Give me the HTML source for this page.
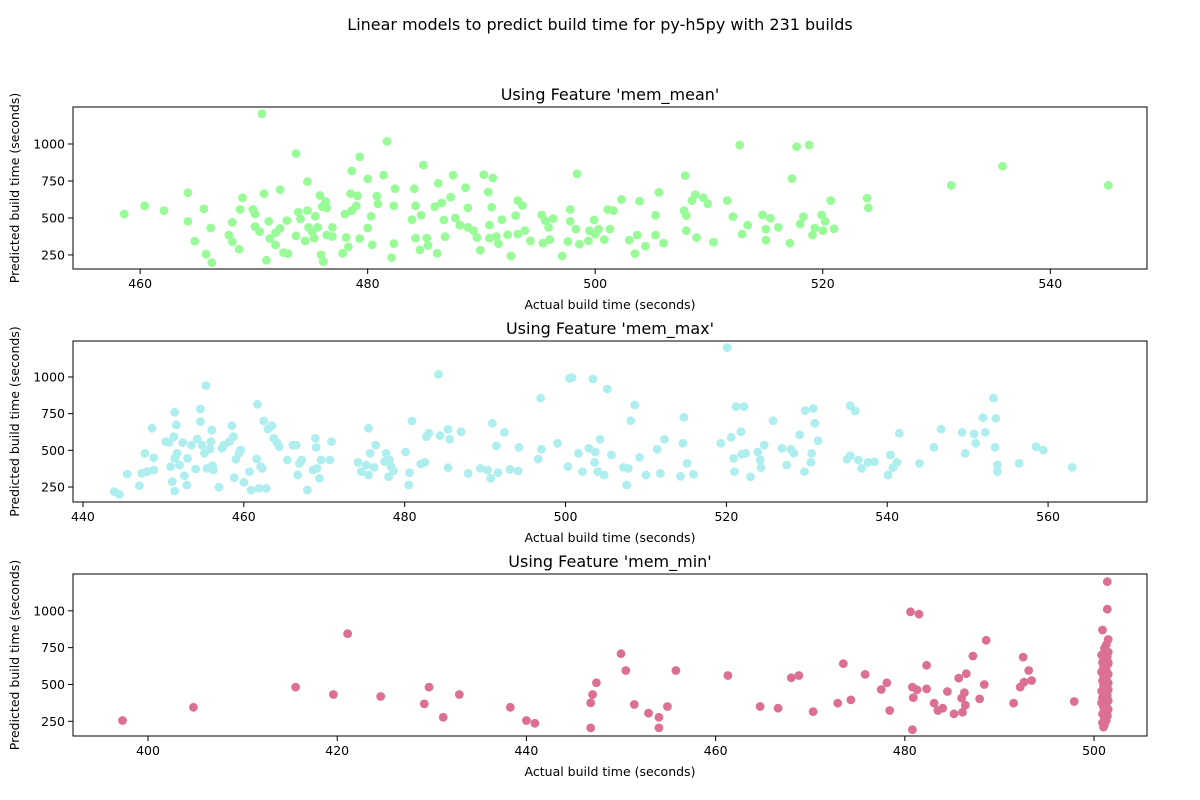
<!DOCTYPE html>
<html><head><meta charset="utf-8"><style>
html,body{margin:0;padding:0;background:#fff}
svg{display:block;font-family:"DejaVu Sans","Liberation Sans",sans-serif}
</style></head><body>
<svg id="chart" width="1200" height="800" viewBox="0 0 1200 800">
<rect width="1200" height="800" fill="#fff"/>
<text x="600" y="30" text-anchor="middle" font-size="16">Linear models to predict build time for py-h5py with 231 builds</text>
</svg>
<script>
const yTicks = [250, 500, 750, 1000];
const titles = ["Using Feature 'mem_mean'", "Using Feature 'mem_max'", "Using Feature 'mem_min'"];
const xTicks1 = [460, 480, 500, 520, 540];
const xTicks2 = [440, 460, 480, 500, 520, 540, 560];
const xTicks3 = [400, 420, 440, 460, 480, 500];
const memMeanPoints = [[458.6,527],[460.4,582],[462.1,550],[464.2,670],[464.2,477],[464.8,343],[465.6,561],[465.8,255],[466.2,432],[466.3,198],[467.8,384],[468.1,470],[468.1,339],[468.7,289],[468.8,557],[469.0,636],[469.9,557],[470.1,527],[470.1,441],[470.5,407],[470.7,1205],[470.9,664],[471.1,214],[471.3,477],[471.4,361],[471.9,400],[471.9,318],[472.3,691],[472.3,430],[472.6,266],[472.9,482],[473.0,259],[473.7,379],[473.7,936],[473.9,539],[474.1,493],[474.5,345],[474.7,745],[474.7,550],[474.8,436],[475.1,407],[475.3,364],[475.4,511],[475.6,436],[475.8,652],[475.9,250],[476.0,577],[476.1,205],[476.3,611],[476.4,568],[476.4,384],[476.9,436],[476.9,375],[477.8,261],[478.0,527],[478.1,368],[478.3,305],[478.5,664],[478.6,818],[478.6,550],[479.0,582],[479.1,650],[479.3,913],[479.3,361],[480.0,764],[480.0,432],[480.3,511],[480.4,318],[480.8,647],[480.9,595],[481.4,789],[481.7,1018],[482.1,232],[482.3,582],[482.3,327],[482.4,698],[483.9,489],[484.1,698],[484.2,582],[484.2,364],[484.6,284],[484.7,518],[484.9,857],[485.2,364],[485.3,314],[485.9,577],[486.1,261],[486.2,734],[486.5,602],[486.7,486],[486.8,373],[487.3,641],[487.5,789],[487.7,500],[488.1,452],[488.6,705],[488.8,568],[488.8,436],[489.3,414],[489.6,368],[489.9,282],[490.2,793],[490.6,675],[490.7,452],[490.7,364],[490.9,572],[491.0,770],[491.3,373],[491.5,327],[491.8,489],[492.3,386],[492.6,243],[493.0,516],[493.2,618],[493.2,391],[493.6,584],[493.8,414],[494.3,345],[495.3,521],[495.4,330],[495.6,482],[495.9,436],[496.0,354],[496.3,495],[497.1,243],[497.6,341],[497.8,557],[497.8,477],[498.3,425],[498.4,798],[498.6,323],[499.4,345],[499.5,414],[499.9,486],[500.0,391],[500.3,425],[500.8,354],[501.1,557],[501.3,425],[501.6,550],[502.3,625],[503.0,350],[503.5,259],[503.7,384],[503.9,613],[504.4,309],[505.3,518],[505.3,384],[505.6,673],[506.0,330],[507.8,550],[507.9,786],[508.0,516],[508.0,414],[508.5,618],[508.8,657],[508.9,368],[509.5,636],[509.9,595],[510.4,336],[511.6,618],[512.1,509],[512.7,993],[512.9,391],[513.4,452],[514.7,521],[515.0,350],[515.0,425],[515.4,498],[516.1,436],[517.1,330],[517.3,766],[517.7,982],[518.0,459],[518.3,509],[518.8,993],[519.1,384],[519.3,432],[519.9,521],[520.0,414],[520.2,477],[520.7,618],[521.0,427],[523.9,634],[524.0,568],[531.3,720],[535.8,850],[545.1,720]];
const memMaxPoints = [[443.9,218],[444.5,200],[445.5,339],[447.0,259],[447.3,343],[447.7,480],[448.0,355],[448.6,650],[448.8,450],[448.8,366],[450.3,559],[450.7,554],[450.9,389],[451.1,286],[451.3,593],[451.4,759],[451.4,445],[451.4,223],[451.6,673],[451.7,480],[452.0,400],[452.4,552],[452.6,327],[452.9,264],[453.0,445],[453.5,536],[454.0,373],[454.2,577],[454.6,695],[454.6,782],[454.8,536],[455.1,480],[455.3,941],[455.4,377],[455.8,509],[455.9,559],[456.0,638],[456.1,395],[456.2,366],[456.9,248],[457.3,514],[457.5,536],[458.2,559],[458.5,668],[458.7,593],[458.8,314],[459.0,439],[459.4,480],[459.6,502],[460.0,282],[460.7,355],[460.9,230],[461.6,441],[461.7,814],[461.9,241],[462.1,389],[462.3,377],[462.5,700],[462.8,241],[463.0,645],[463.5,668],[463.7,582],[464.1,554],[464.4,525],[465.4,434],[466.1,536],[466.5,536],[466.7,332],[466.9,411],[467.2,434],[467.9,230],[468.6,366],[468.9,582],[469.0,520],[469.1,377],[469.4,309],[469.6,434],[470.7,434],[470.9,559],[474.2,418],[474.6,355],[475.2,400],[475.5,650],[475.5,332],[475.7,480],[476.2,384],[476.4,536],[477.5,423],[477.7,480],[478.0,320],[478.1,434],[478.3,389],[478.6,359],[480.1,489],[480.5,264],[480.6,348],[480.9,700],[482.0,407],[482.5,418],[482.7,593],[483.0,616],[484.2,1018],[484.4,600],[485.4,643],[485.4,382],[485.6,575],[487.0,627],[487.9,343],[489.4,377],[490.3,366],[490.7,309],[490.9,684],[491.4,530],[491.6,348],[492.4,622],[493.1,370],[494.1,359],[494.2,520],[496.6,441],[496.9,855],[497.0,507],[499.0,548],[500.3,389],[500.5,991],[500.8,995],[501.6,480],[502.1,355],[502.9,514],[503.4,986],[503.6,418],[503.7,489],[504.0,355],[504.3,575],[504.8,332],[505.2,918],[505.7,468],[507.2,384],[507.6,264],[507.8,377],[508.1,702],[508.6,809],[509.2,452],[510.0,332],[511.4,507],[511.8,343],[512.3,575],[514.3,323],[514.6,548],[514.7,725],[515.1,411],[515.9,336],[519.3,548],[520.1,1200],[520.6,589],[520.9,445],[521.0,355],[521.2,798],[521.9,473],[521.8,627],[522.2,798],[522.4,480],[523.0,320],[523.9,489],[524.2,434],[524.3,382],[524.7,536],[525.8,702],[526.9,514],[527.5,400],[528.0,507],[528.4,480],[529.1,605],[529.7,355],[529.8,770],[530.5,418],[530.6,480],[530.8,786],[531.0,684],[531.4,566],[535.0,439],[535.4,805],[535.4,464],[536.0,768],[536.4,434],[536.8,377],[537.6,418],[538.4,423],[540.1,332],[540.4,468],[540.7,382],[541.2,418],[541.5,616],[544.0,411],[545.8,520],[546.7,645],[549.3,622],[549.7,480],[550.8,611],[551.0,548],[551.9,723],[552.2,622],[553.2,855],[553.5,718],[553.4,520],[553.7,400],[553.7,355],[556.4,411],[558.5,525],[559.4,502],[563.0,384]];
const memMinPoints = [[397.3,255],[404.8,345],[415.6,482],[419.6,432],[421.1,845],[424.6,418],[429.2,368],[429.7,482],[431.2,277],[432.9,432],[438.3,345],[440.0,255],[440.9,236],[446.8,205],[446.8,375],[447.0,432],[447.4,511],[450.0,709],[450.5,595],[451.4,364],[452.9,305],[454.0,277],[454.0,205],[454.9,350],[455.8,595],[461.3,561],[464.7,350],[466.6,339],[468.0,545],[468.8,561],[470.3,316],[472.9,373],[473.5,641],[474.3,395],[475.8,568],[477.5,466],[478.1,511],[478.4,323],[480.6,993],[481.5,977],[480.8,193],[480.8,482],[480.9,411],[481.3,464],[482.3,470],[482.3,630],[483.1,373],[483.5,323],[484.0,339],[484.5,452],[485.2,300],[485.7,543],[486.0,407],[486.1,311],[486.3,445],[486.5,573],[486.4,359],[487.2,693],[487.9,402],[488.4,500],[488.6,800],[491.5,373],[492.2,482],[492.5,686],[492.6,516],[493.1,595],[493.4,527],[497.9,384],[501.4,1198],[501.4,1011],[500.9,870],[501.5,805],[501.3,770],[501.1,745],[501.5,720],[500.8,700],[501.4,690],[501.2,670],[500.9,650],[501.5,640],[501.0,620],[501.3,600],[500.8,585],[501.5,570],[501.1,555],[501.3,540],[500.9,525],[501.5,510],[501.0,495],[501.3,480],[501.5,465],[500.8,455],[501.2,440],[501.4,425],[500.9,410],[501.2,400],[501.5,390],[500.8,375],[501.3,360],[501.0,345],[501.5,330],[501.2,315],[500.9,300],[501.4,285],[501.1,270],[501.3,255],[500.9,240],[501.1,225],[501.0,210],[501.5,650],[501.0,560],[501.3,470],[501.1,380],[501.4,290]];

const NS = "http://www.w3.org/2000/svg";
const svg = document.getElementById('chart');
function mk(tag, attrs, parent){const e=document.createElementNS(NS,tag);for(const k in attrs)e.setAttribute(k,attrs[k]);(parent||svg).appendChild(e);return e;}

const panels = [
  {top:107,bottom:269,xmin:454.1,xmax:548.5,ymin:155,ymax:1250,ticks:xTicks1,pts:memMeanPoints,color:"#98fb98",key:"mem-mean"},
  {top:341,bottom:502,xmin:438.76,xmax:572.3,ymin:148,ymax:1245,ticks:xTicks2,pts:memMaxPoints,color:"#afeeee",key:"mem-max"},
  {top:574,bottom:736,xmin:392.07,xmax:505.6,ymin:150,ymax:1250,ticks:xTicks3,pts:memMinPoints,color:"#db7093",key:"mem-min"}
];
const L=73, R=1147;
panels.forEach((p,i)=>{
  const g = mk('g',{});
  
  
  const xs = v => L + (v - p.xmin) / (p.xmax - p.xmin) * (R - L);
  const ys = v => p.bottom - (v - p.ymin) / (p.ymax - p.ymin) * (p.bottom - p.top);
  const t = mk('text',{x:(L+R)/2,y:p.top-7,'text-anchor':'middle','font-size':'16'},g);
  t.textContent = titles[i];
  
  
  p.pts.forEach(d=>{
    const c = mk('circle',{cx:xs(d[0]).toFixed(1),cy:ys(d[1]).toFixed(1),r:4.4,fill:p.color},g);
    
    
  });
  const fr = mk('rect',{x:L,y:p.top,width:R-L,height:p.bottom-p.top,fill:'none',stroke:'#000','stroke-width':1},g);
  
  
  p.ticks.forEach(v=>{
    const x = xs(v);
    mk('line',{x1:x,x2:x,y1:p.bottom,y2:p.bottom+5,stroke:'#000'},g);
    const tl = mk('text',{x:x,y:p.bottom+19,'text-anchor':'middle','font-size':'12.5'},g);
    tl.textContent = v;
    
    
  });
  yTicks.forEach(v=>{
    const y = ys(v);
    mk('line',{x1:L-5,x2:L,y1:y,y2:y,stroke:'#000'},g);
    const tl = mk('text',{x:L-8,y:y+4.5,'text-anchor':'end','font-size':'12.5'},g);
    tl.textContent = v;
    
    
  });
  const xl = mk('text',{x:(L+R)/2,y:p.bottom+40,'text-anchor':'middle','font-size':'12.5'},g);
  xl.textContent = 'Actual build time (seconds)';
  
  
  const cy = (p.top+p.bottom)/2;
  const yl = mk('text',{x:19,y:cy,'text-anchor':'middle','font-size':'12.5',transform:`rotate(-90 19 ${cy})`},g);
  yl.textContent = 'Predicted build time (seconds)';
  
  
});
</script>
</body></html>
